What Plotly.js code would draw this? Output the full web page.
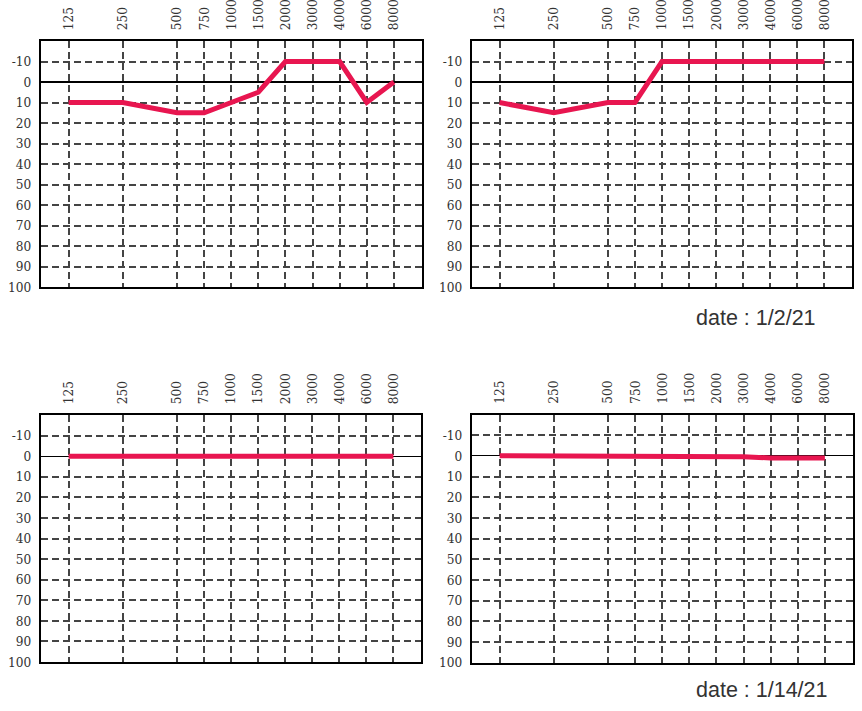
<!DOCTYPE html>
<html>
<head>
<meta charset="utf-8">
<script src="https://cdn.plot.ly/plotly-3.0.1.min.js"></script>
<style>html,body{margin:0;padding:0;background:#fff;}#chart{width:862px;height:711px;}</style>
</head>
<body>
<div id="chart"></div>
<script>
// ---- data ----
var freqs = [125, 250, 500, 750, 1000, 1500, 2000, 3000, 4000, 6000, 8000];
var freqLabels = ['125','250','500','750','1000','1500','2000','3000','4000','6000','8000'];
var levelTicks = [-10, 0, 10, 20, 30, 40, 50, 60, 70, 80, 90, 100];
var levelLabels = ['-10','0','10','20','30','40','50','60','70','80','90','100'];
var topLeft = [10, 10, 15, 15, 10, 5, -10, -10, -10, 10, 0];
var topRight = [10, 15, 10, 10, -10, -10, -10, -10, -10, -10, -10];
var bottomLeft = [0, 0, 0, 0, 0, 0, 0, 0, 0, 0, 0];
var bottomRight = [0, 0, 0, 0.5, 0.5, 0.5, 0.5, 0.5, 1, 1, 1];
var dates = ['date : 1/2/21', 'date : 1/14/21'];

// audiogram positions: octaves above 125 Hz, half-octave steps
var octave = freqs.map(function(f){ return Math.round(2 * Math.log(f / 125) / Math.LN2) / 2; });

var W = 862, H = 711;
var lineColor = 'rgb(232,22,80)';
var tickFont = {family: '"DejaVu Serif Condensed", "DejaVu Serif", serif', size: 13.5, color: '#333'};

function trace(vals, n) {
  return {
    x: octave, y: vals, type: 'scatter', mode: 'lines',
    line: {color: lineColor, width: 5},
    xaxis: 'x' + (n === 1 ? '' : n), yaxis: 'y' + (n === 1 ? '' : n),
    hoverinfo: 'skip', showlegend: false
  };
}

function xax(l, r, anchor) {
  return {
    domain: [l / W, r / W], anchor: anchor, side: 'top', type: 'linear',
    range: [-0.51, 6.51], tickvals: octave, ticktext: freqLabels,
    tickangle: -90, tickfont: tickFont, ticks: '', ticklabelstandoff: 6,
    showgrid: true, gridcolor: '#444', gridwidth: 2, griddash: '7px,4px',
    zeroline: false, showline: true, mirror: true, linecolor: '#000', linewidth: 2,
    fixedrange: true
  };
}
function yax(t, b, anchor) {
  return {
    domain: [1 - b / H, 1 - t / H], anchor: anchor,
    range: [100, -20], tickvals: levelTicks, ticktext: levelLabels,
    tickfont: tickFont, ticks: '', ticklabelstandoff: 5,
    showgrid: true, gridcolor: '#444', gridwidth: 2, griddash: '7px,4px',
    zeroline: true, zerolinecolor: '#000', zerolinewidth: 1.3,
    showline: true, mirror: true, linecolor: '#000', linewidth: 2,
    fixedrange: true
  };
}

var data = [trace(topLeft, 1), trace(topRight, 2), trace(bottomLeft, 3), trace(bottomRight, 4)];

var layout = {
  width: W, height: H,
  margin: {l: 0, r: 0, t: 0, b: 0},
  paper_bgcolor: '#fff', plot_bgcolor: '#fff',
  showlegend: false,
  xaxis: xax(41, 421.5, 'y'),
  yaxis: yax(41, 287, 'x'),
  xaxis2: xax(472, 852, 'y2'),
  yaxis2: yax(41, 287, 'x2'),
  xaxis3: xax(41, 421, 'y3'),
  yaxis3: yax(415, 662, 'x3'),
  xaxis4: xax(472, 852.5, 'y4'),
  yaxis4: yax(414.5, 662.5, 'x4'),
  annotations: [
    {text: dates[0], xref: 'paper', yref: 'paper', x: 694 / W, y: 1 - 318 / H,
     xanchor: 'left', yanchor: 'middle', showarrow: false,
     font: {family: '"Liberation Sans", Arial, sans-serif', size: 21.5, color: '#333'}},
    {text: dates[1], xref: 'paper', yref: 'paper', x: 694 / W, y: 1 - 690 / H,
     xanchor: 'left', yanchor: 'middle', showarrow: false,
     font: {family: '"Liberation Sans", Arial, sans-serif', size: 21.5, color: '#333'}}
  ]
};

Plotly.newPlot('chart', data, layout, {displayModeBar: false, staticPlot: true});
</script>
</body>
</html>
